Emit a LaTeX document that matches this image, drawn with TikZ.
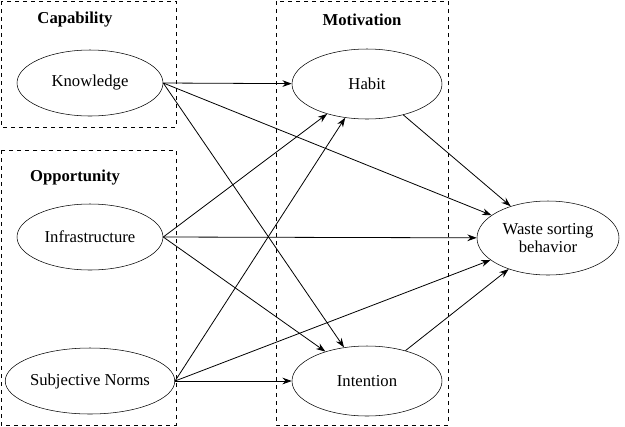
\documentclass[tikz,border=0pt]{standalone}
\usepackage{fontspec}
\setmainfont{Liberation Serif}
\usetikzlibrary{shapes.geometric,arrows.meta}
\begin{document}
\begin{tikzpicture}[x=0.75pt,y=-0.75pt,
  ell/.style={draw,ellipse,minimum width=146*0.75pt,minimum height=66*0.75pt,inner sep=0pt,align=center,font=\fontsize{12.5}{14}\selectfont},
  grp/.style={draw,dashed},
  ttl/.style={font=\fontsize{12.5}{14}\selectfont\bfseries},
  arr/.style={-{Stealth[length=7pt,width=5pt]},line width=0.6pt}]
\useasboundingbox (0,0) rectangle (625,426);
\draw[grp] (1,1) rectangle (176,127);
\draw[grp] (1,150) rectangle (176,425);
\draw[grp] (276,1) rectangle (448,425);
\node[ttl] (tc) at (75,20) {Capability};
\node[ttl] (to) at (75,178) {Opportunity};
\node[ttl] (tm) at (362,20) {Motivation};
\node[ell] (k) at (90,83) {Knowledge};
\node[ell] (i) at (90,237) {Infrastructure};
\node[ell] (s) at (90,381) {Subjective Norms};
\node[ell,minimum width=150*0.75pt,minimum height=70*0.75pt] (h) at (367,84) {Habit};
\node[ell,minimum width=150*0.75pt,minimum height=70*0.75pt] (n) at (367,381) {Intention};
\node[ell,minimum width=142*0.75pt,minimum height=74*0.75pt] (w) at (548,238) {Waste sorting\\behavior};
\draw[arr] (k.east) -- (h);
\draw[arr] (k.east) -- (w);
\draw[arr] (k.east) -- (n);
\draw[arr] (i.east) -- (h);
\draw[arr] (i.east) -- (w);
\draw[arr] (i.east) -- (n);
\draw[arr] (s.east) -- (h);
\draw[arr] (s.east) -- (w);
\draw[arr] (s.east) -- (n);
\draw[arr] (h) -- (w);
\draw[arr] (n) -- (w);
\end{tikzpicture}
\end{document}
